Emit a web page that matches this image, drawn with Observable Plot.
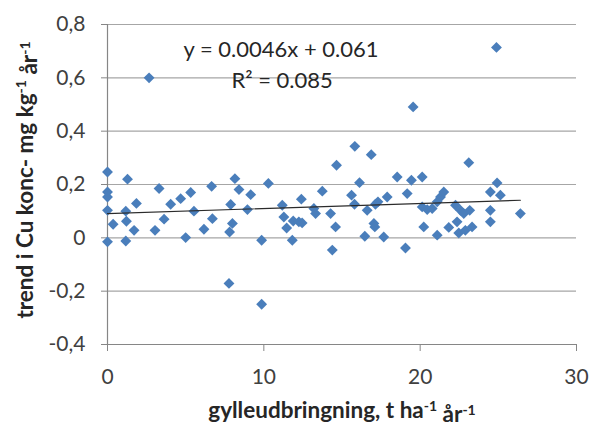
<!DOCTYPE html>
<html><head><meta charset="utf-8">
<script src="https://cdn.jsdelivr.net/npm/d3@7"></script>
<script src="https://cdn.jsdelivr.net/npm/@observablehq/plot@0.6"></script>
<style>html,body{margin:0;padding:0;background:#fff}#chart svg{display:block}</style>
</head><body><div id="chart"></div>
<script>
// Data
const xValues = [0,0,0,0,0,0.36,1.17,1.21,1.28,1.70,1.17,1.85,2.66,3.04,3.30,3.62,4.04,4.68,5.00,5.32,5.53,6.17,6.66,6.71,7.77,7.81,7.88,7.99,8.15,8.41,8.95,9.16,9.86,9.86,10.29,11.18,11.28,11.46,11.82,11.88,12.24,12.40,12.45,13.20,13.31,13.74,14.27,14.38,14.59,14.65,15.61,15.80,15.82,16.12,16.46,16.61,16.87,17.04,17.10,17.14,17.30,17.67,17.89,18.53,19.06,19.17,19.44,19.55,20.13,20.13,20.23,20.45,20.77,21.09,21.09,21.30,21.51,21.83,22.26,22.36,22.47,22.58,22.79,22.89,23.11,23.17,23.32,24.49,24.49,24.49,24.88,24.92,25.13,26.41];
const yValues = [0.247,0.172,0.153,0.103,-0.015,0.051,0.100,0.062,0.220,0.028,-0.012,0.129,0.600,0.028,0.185,0.070,0.126,0.147,0.001,0.170,0.100,0.032,0.193,0.072,-0.171,0.022,0.125,0.054,0.222,0.181,0.106,0.162,-0.009,-0.249,0.204,0.122,0.078,0.037,-0.009,0.063,0.060,0.145,0.056,0.110,0.091,0.175,0.091,-0.046,0.041,0.272,0.160,0.126,0.343,0.207,0.006,0.103,0.312,0.054,0.041,0.126,0.135,0.003,0.153,0.228,-0.038,0.166,0.216,0.491,0.228,0.116,0.041,0.106,0.110,0.135,0.010,0.153,0.172,0.039,0.122,0.060,0.018,0.103,0.091,0.028,0.282,0.103,0.041,0.172,0.103,0.060,0.714,0.206,0.160,0.091];
const trendX = [0, 26.41];
const trendY = [0.091, 0.141];
const xTicks = [0, 10, 20, 30];
const yTicks = [-0.4, -0.2, 0, 0.2, 0.4, 0.6, 0.8];
const equationText = "y = 0.0046x + 0.061";
const r2Text = "R² = 0.085";

const points = xValues.map((x, i) => ({x, y: yValues[i]}));
const trend = trendX.map((x, i) => ({x, y: trendY[i]}));
const fmtY = v => v === 0 ? "0" : v.toFixed(1).replace(".", ",");

const FONT = "Lato, 'Open Sans', sans-serif";
const plot = Plot.plot({
  width: 592, height: 427,
  marginLeft: 107, marginRight: 16, marginTop: 24, marginBottom: 83,
  x: {domain: [0, 30], label: null},
  y: {domain: [-0.4, 0.8], label: null},
  style: {fontFamily: FONT, fontSize: "21px", color: "#404040", background: "#fff"},
  marks: [
    Plot.ruleY(yTicks.filter(d => d > -0.4), {stroke: "#a6a6a6", strokeWidth: 1.2}),
    Plot.axisX({ticks: xTicks, tickFormat: d => String(d), tickSize: 7, tickPadding: 18, stroke: "#868686", fill: "#404040", label: null}),
    Plot.axisY({ticks: yTicks, tickFormat: fmtY, tickSize: 6, tickPadding: 16, stroke: "#868686", fill: "#404040", label: null}),
    Plot.ruleX([0], {stroke: "#868686", strokeWidth: 1.2}),
    Plot.ruleY([-0.4], {stroke: "#868686", strokeWidth: 1.2}),
    Plot.dot(points, {x: "x", y: "y", symbol: "diamond2", r: 4.9, fill: "#4A7EBB", stroke: "none"}),
    Plot.line(trend, {x: "x", y: "y", stroke: "#2b2b2b", strokeWidth: 1.2}),
    Plot.text([equationText], {x: 11.1, y: 0.703, text: d => d, fontSize: 22, fill: "#262626"}),
    Plot.text([r2Text], {x: 11.17, y: 0.59, text: d => d, fontSize: 22, fill: "#262626"})
  ]
});
document.getElementById("chart").appendChild(plot);

const svg = d3.select(plot);
function addTitle(g, parts) {
  const t = g.append("text").attr("text-anchor", "middle")
    .attr("font-family", FONT).attr("font-weight", "bold").attr("font-size", 22.5).attr("fill", "#262626");
  let shift = 0;
  parts.forEach(p => {
    const s = t.append("tspan").text(p.t);
    if (p.sup) { s.attr("dy", "-0.5em").attr("font-size", 14); shift = 1; }
    else if (shift) { s.attr("dy", "0.5em"); shift = 0; }
  });
}
addTitle(svg.append("g").attr("transform", "translate(342,418)"),
  [{t: "gylleudbringning, t ha"}, {t: "-1", sup: true}, {t: " år"}, {t: "-1", sup: true}]);
addTitle(svg.append("g").attr("transform", "translate(33,180) rotate(-90)"),
  [{t: "trend i Cu konc- mg kg"}, {t: "-1", sup: true}, {t: " år"}, {t: "-1", sup: true}]);
</script>
</body></html>
